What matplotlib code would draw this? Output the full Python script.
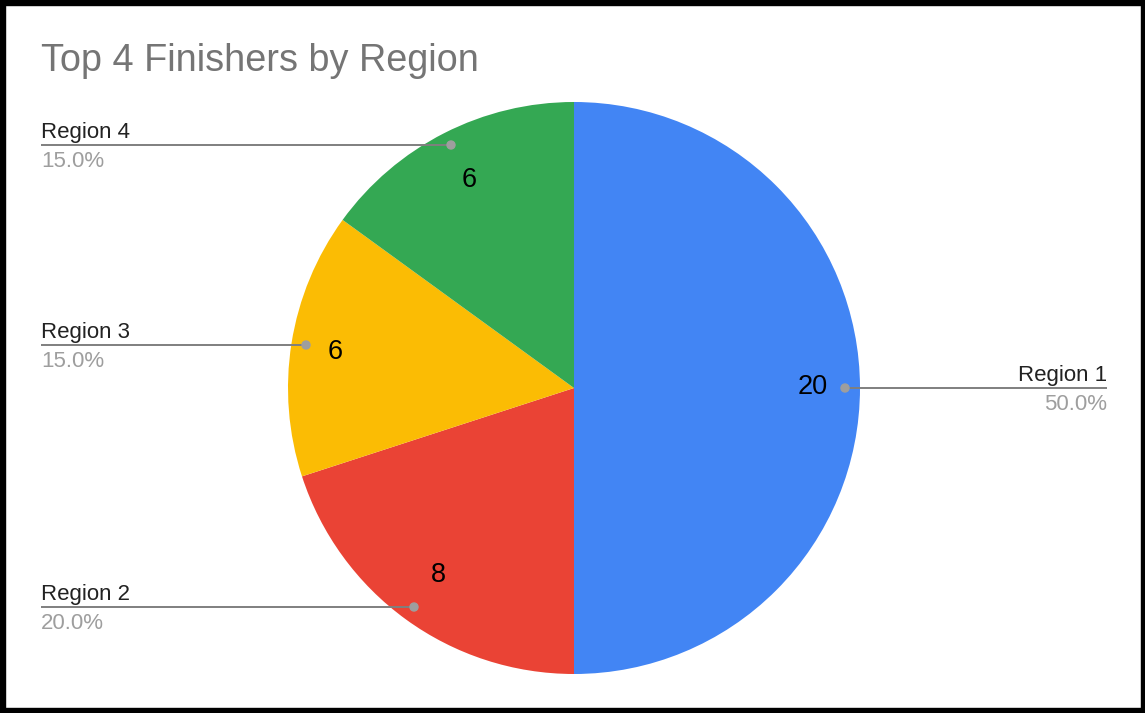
import matplotlib
matplotlib.use("Agg")
import matplotlib.pyplot as plt
from matplotlib.patches import Rectangle, Circle
import numpy as np

plt.rcParams['font.family'] = ['Liberation Sans', 'DejaVu Sans']

title = "Top 4 Finishers by Region"
regions = ["Region 1", "Region 2", "Region 3", "Region 4"]
values = [20, 8, 6, 6]
colors = ["#4285F4", "#EA4335", "#FBBC04", "#34A853"]

W, H = 1145, 713
fig = plt.figure(figsize=(W / 100, H / 100), dpi=100)
ax = fig.add_axes([0, 0, 1, 1])

cx, cy, R = 574, H - 388, 286
wedges, _ = ax.pie(values, colors=colors, startangle=90, counterclock=False,
                   center=(cx, cy), radius=R, frame=True,
                   wedgeprops=dict(linewidth=0))
ax.set_xlim(0, W)
ax.set_ylim(0, H)
ax.set_aspect('equal')
ax.axis('off')

total = sum(values)
pct = [v / total * 100 for v in values]

# label geometry (pixels, y measured from top)
dot_pts = {0: (845, 388), 1: (414, 607), 2: (306, 345), 3: (451, 145)}
val_pts = {0: (813, 387), 1: (438, 575), 2: (335, 352), 3: (469, 180)}

for i, w in enumerate(wedges):
    vx, vy = val_pts[i]
    ax.text(vx, H - vy, str(values[i]), ha='center', va='center',
            fontsize=19.5, color='black')
    dx, dy = dot_pts[i]
    if i == 0:
        x_end, ha = 1107, 'right'
    else:
        x_end, ha = 41, 'left'
    ax.plot([dx, x_end], [H - dy, H - dy], color='#7f7f7f', lw=1.4,
            solid_capstyle='butt', zorder=3)
    ax.add_patch(Circle((dx, H - dy), 4, color='#9e9e9e', zorder=4))
    ax.text(x_end, H - dy + 7, regions[i], ha=ha, va='baseline',
            fontsize=16, color='#222222')
    ax.text(x_end, H - dy - 22, f"{pct[i]:.1f}%", ha=ha, va='baseline',
            fontsize=16, color='#9e9e9e')

ax.text(41, H - 71, title, ha='left', va='baseline', fontsize=27.3,
        color='#757575')

# black frame
ax.add_patch(Rectangle((0, 0), 5, H, color='black', zorder=10, clip_on=False))
ax.add_patch(Rectangle((1141, 0), 4, H, color='black', zorder=10, clip_on=False))
ax.add_patch(Rectangle((0, H - 5), W, 5, color='black', zorder=10, clip_on=False))
ax.add_patch(Rectangle((0, 0), W, 5, color='black', zorder=10, clip_on=False))

fig.savefig("out.png", dpi=100)
